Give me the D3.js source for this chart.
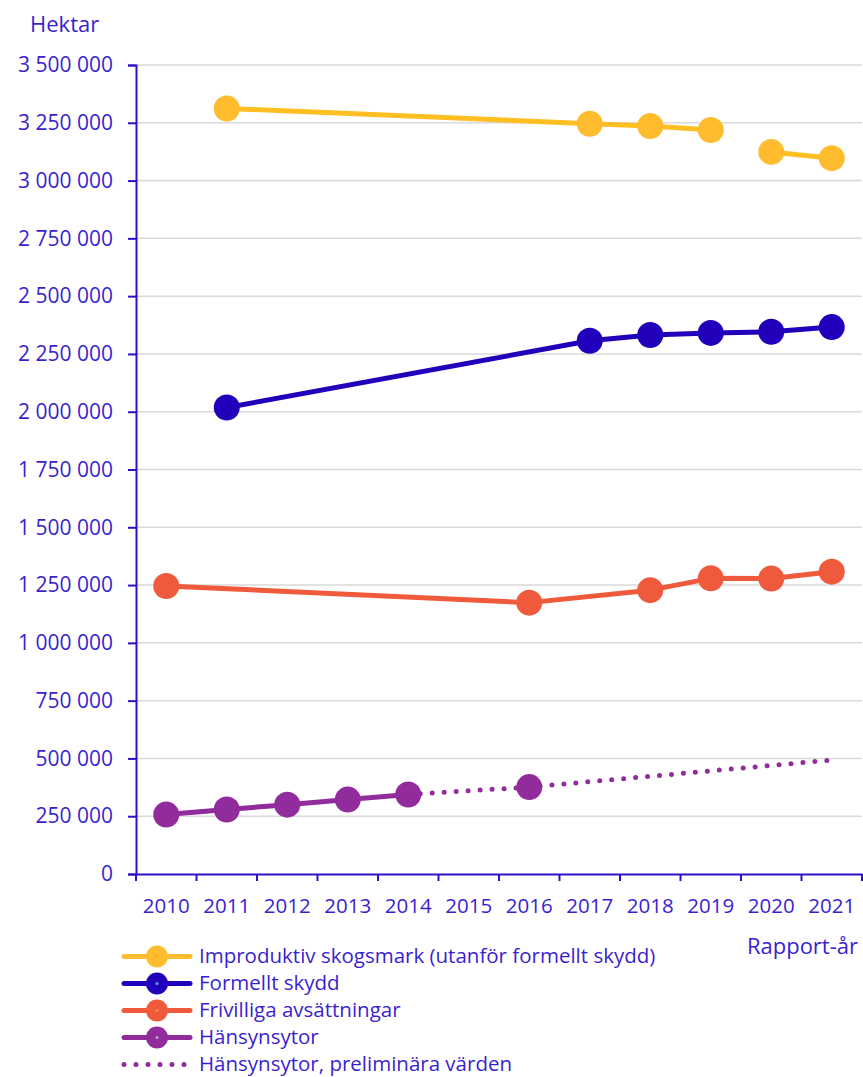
<!DOCTYPE html>
<html>
<head>
<meta charset="utf-8">
<script src="https://cdn.jsdelivr.net/npm/d3@7"></script>
<style>
  body { margin: 0; background: #fff; }
  text { font-family: "Open Sans", sans-serif; fill: #3a1fd0; }
</style>
</head>
<body>
<div id="root"></div>
<script>
// data
const years = ['2010', '2011', '2012', '2013', '2014', '2015', '2016', '2017', '2018', '2019', '2020', '2021'];
const yTicks = [0, 250000, 500000, 750000, 1000000, 1250000, 1500000, 1750000, 2000000, 2250000, 2500000, 2750000, 3000000, 3250000, 3500000];

const improduktiv = [null, 3312000, null, null, null, null, null, 3246000, 3236000, 3219000, 3124000, 3097000];
const improduktivBreaks = ['2020'];
const formellt = [null, 2018000, null, null, null, null, null, 2307000, 2332000, 2341000, 2346000, 2366000];
const frivilliga = [1246000, null, null, null, null, null, 1174000, null, 1228000, 1279000, 1278000, 1308000];
const hansyn = [257000, 279000, 300000, 322000, 344000, null, 376000, null, null, null, null, null];
const hansynSolidYears = ['2010', '2011', '2012', '2013', '2014'];
const preliminar = [null, null, null, null, 344000, null, 376000, null, null, null, null, 493000];

const seriesNames = ['Improduktiv skogsmark (utanför formellt skydd)', 'Formellt skydd', 'Frivilliga avsättningar', 'Hänsynsytor', 'Hänsynsytor, preliminära värden'];

const w = 863;
const h = 1077;
const textColor = '#3a1fd0';
const axisColor = '#2a12c8';

const svg = d3.select('#root')
  .append('svg')
  .attr('width', w)
  .attr('height', h);

const xScale = d3.scaleBand()
  .domain(years)
  .range([136, 862])
  .padding(0);

const yScale = d3.scaleLinear()
  .domain([0, 3500000])
  .range([874, 65]);

const cx = y => xScale(y) + xScale.bandwidth() / 2;

const locale = d3.formatLocale({ decimal: ',', thousands: '\u00a0', grouping: [3], currency: ['', ' kr'] });
const fmt = locale.format(',d');

// gridlines
svg.append('g')
  .selectAll('line')
  .data(yTicks.slice(1))
  .enter()
  .append('line')
  .attr('x1', 136)
  .attr('x2', 862)
  .attr('y1', d => yScale(d))
  .attr('y2', d => yScale(d))
  .attr('stroke', '#d9d9d9')
  .attr('stroke-width', 1.5);

// y axis
const yAxis = svg.append('g')
  .attr('transform', 'translate(136, 0)')
  .call(d3.axisLeft(yScale).tickValues(yTicks).tickFormat(fmt).tickSize(8).tickPadding(15));
yAxis.select('.domain').attr('stroke', axisColor).attr('stroke-width', 2);
yAxis.selectAll('.tick line').attr('stroke', axisColor).attr('stroke-width', 2);
yAxis.selectAll('.tick text')
  .attr('font-size', 21)
  .attr('font-family', '"Open Sans", sans-serif')
  .attr('fill', textColor);

// x axis
const xAxis = svg.append('g')
  .attr('transform', 'translate(0, 874)')
  .call(d3.axisBottom(xScale).tickSize(0).tickFormat(''));
xAxis.select('.domain').attr('stroke', axisColor).attr('stroke-width', 2);

svg.append('g')
  .selectAll('line')
  .data(years.concat(['end']))
  .enter()
  .append('line')
  .attr('x1', (d, i) => 136 + i * xScale.bandwidth())
  .attr('x2', (d, i) => 136 + i * xScale.bandwidth())
  .attr('y1', 874)
  .attr('y2', 881)
  .attr('stroke', axisColor)
  .attr('stroke-width', 2);

svg.append('g')
  .selectAll('text')
  .data(years)
  .enter()
  .append('text')
  .attr('x', d => cx(d))
  .attr('y', 913)
  .attr('text-anchor', 'middle')
  .attr('font-size', 20.5)
  .text(d => d);

// axis titles
svg.append('text')
  .attr('x', 30)
  .attr('y', 32)
  .attr('font-size', 22)
  .text('Hektar');

svg.append('text')
  .attr('x', 858)
  .attr('y', 954)
  .attr('text-anchor', 'end')
  .attr('font-size', 22)
  .text('Rapport-år');

// lines
function points(values, breaks) {
  const pts = [];
  years.forEach((y, i) => {
    if (values[i] == null) return;
    if (breaks && breaks.includes(y)) pts.push(null);
    pts.push({ year: y, value: values[i] });
  });
  return pts;
}

const line = d3.line()
  .defined(d => d !== null)
  .x(d => cx(d.year))
  .y(d => yScale(d.value));

function drawSeries(values, breaks, lineColor, dotColor) {
  svg.append('path')
    .datum(points(values, breaks))
    .attr('d', line)
    .attr('fill', 'none')
    .attr('stroke', lineColor)
    .attr('stroke-width', 5)
    .attr('stroke-linejoin', 'round');
  svg.append('g')
    .selectAll('circle')
    .data(points(values))
    .enter()
    .append('circle')
    .attr('cx', d => cx(d.year))
    .attr('cy', d => yScale(d.value))
    .attr('r', 13)
    .attr('fill', dotColor);
}

// preliminary dotted line first, markers over it
svg.append('path')
  .datum(points(preliminar))
  .attr('d', line)
  .attr('fill', 'none')
  .attr('stroke', '#922b9b')
  .attr('stroke-width', 5)
  .attr('stroke-linecap', 'round')
  .attr('stroke-dasharray', '0 12');

// Hänsynsytor solid
svg.append('path')
  .datum(points(hansyn).filter(d => hansynSolidYears.includes(d.year)))
  .attr('d', line)
  .attr('fill', 'none')
  .attr('stroke', '#922b9b')
  .attr('stroke-width', 5);
svg.append('g')
  .selectAll('circle')
  .data(points(hansyn))
  .enter()
  .append('circle')
  .attr('cx', d => cx(d.year))
  .attr('cy', d => yScale(d.value))
  .attr('r', 13)
  .attr('fill', '#922b9b');

drawSeries(frivilliga, null, '#f05a3c', '#f05a3c');
drawSeries(formellt, null, '#2200bb', '#2200bb');
drawSeries(improduktiv, improduktivBreaks, '#ffbf22', '#ffbc2f');

// legend
const legendColors = ['#ffbc2f', '#2200bb', '#f05a3c', '#922b9b', '#922b9b'];
const legendCenters = ['#f5b800', '#5aa0e0', '#f08a40', '#b8a8b8'];
const legend = svg.append('g');
seriesNames.forEach((name, i) => {
  const y = 956.5 + i * 27;
  const g = legend.append('g').attr('transform', `translate(0, ${y})`);
  if (i < 4) {
    g.append('line')
      .attr('x1', 124).attr('x2', 190)
      .attr('y1', 0).attr('y2', 0)
      .attr('stroke', legendColors[i])
      .attr('stroke-width', 5)
      .attr('stroke-linecap', 'round');
    g.append('circle')
      .attr('cx', 157).attr('cy', 0)
      .attr('r', 11)
      .attr('fill', legendColors[i]);
    g.append('circle')
      .attr('cx', 157).attr('cy', 0)
      .attr('r', 1.5)
      .attr('fill', legendCenters[i]);
  } else {
    g.append('line')
      .attr('x1', 124).attr('x2', 185)
      .attr('y1', 0).attr('y2', 0)
      .attr('stroke', legendColors[i])
      .attr('stroke-width', 5)
      .attr('stroke-linecap', 'round')
      .attr('stroke-dasharray', '0 12');
  }
  g.append('text')
    .attr('x', 199)
    .attr('y', 0)
    .attr('dy', '0.33em')
    .attr('font-size', 20.5)
    .text(name);
});
</script>
</body>
</html>
